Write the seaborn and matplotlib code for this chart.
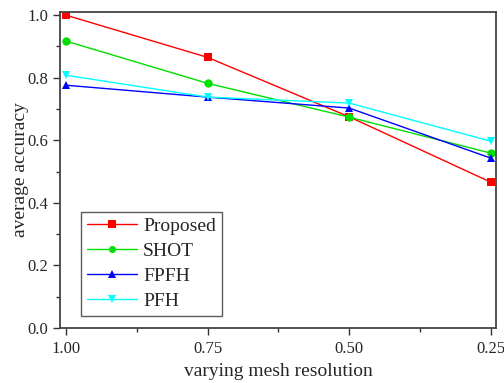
import matplotlib
matplotlib.use("Agg")
import matplotlib.pyplot as plt
from matplotlib.ticker import MultipleLocator
import pandas as pd
import seaborn as sns

# Data
resolution = [1.00, 0.75, 0.50, 0.25]
proposed = [1.000, 0.865, 0.675, 0.466]
shot = [0.917, 0.782, 0.674, 0.559]
fpfh = [0.776, 0.738, 0.703, 0.543]
pfh = [0.808, 0.738, 0.719, 0.597]

methods = ["Proposed", "SHOT", "FPFH", "PFH"]
colors = ["#ff0000", "#00e000", "#0000ff", "#00ffff"]
markers = ["s", "o", "^", "v"]

df = pd.DataFrame({
    "resolution": resolution * 4,
    "accuracy": proposed + shot + fpfh + pfh,
    "method": [m for m in methods for _ in resolution],
})

sns.set_style("ticks")
plt.rcParams["font.family"] = ["Liberation Serif", "DejaVu Serif"]

fig = plt.figure(figsize=(5.04, 3.83), dpi=100)
ax = fig.add_axes([0.119, 0.1436, 0.865, 0.825])

sns.lineplot(data=df, x="resolution", y="accuracy", hue="method", style="method",
             hue_order=methods, style_order=methods, palette=colors,
             markers=markers, dashes=False, markersize=6, markeredgewidth=0,
             linewidth=1, ax=ax)

ax.set_xlim(1.0106, 0.241)
ax.set_ylim(0, 1.01)
ax.set_xticks(resolution)
ax.set_xticklabels(["1.00", "0.75", "0.50", "0.25"])
ax.xaxis.set_minor_locator(MultipleLocator(0.125))
ax.yaxis.set_major_locator(MultipleLocator(0.2))
ax.yaxis.set_minor_locator(MultipleLocator(0.1))
ax.set_yticklabels([f"{v:.1f}" for v in ax.get_yticks()])
ax.tick_params(axis="both", which="major", direction="out", length=5, width=1,
               labelsize=12, color="#333333")
ax.tick_params(axis="x", which="major", pad=4)
ax.tick_params(axis="both", which="minor", direction="out", length=3, width=1,
               color="#333333")
for s in ax.spines.values():
    s.set_color("#444444")
    s.set_linewidth(1.3)

ax.set_xlabel("varying mesh resolution", fontsize=14, labelpad=5)
ax.set_ylabel("average accuracy", fontsize=14, labelpad=-1)

leg = ax.legend(loc="lower left", bbox_to_anchor=(0.048, 0.038), fontsize=14,
                frameon=True, fancybox=False, edgecolor="#333333",
                handlelength=2.6, borderpad=0.3, labelspacing=0.38,
                handletextpad=0.3, borderaxespad=0, markerscale=0.85)
leg.get_frame().set_linewidth(1)

plt.savefig("out.png", dpi=100)
